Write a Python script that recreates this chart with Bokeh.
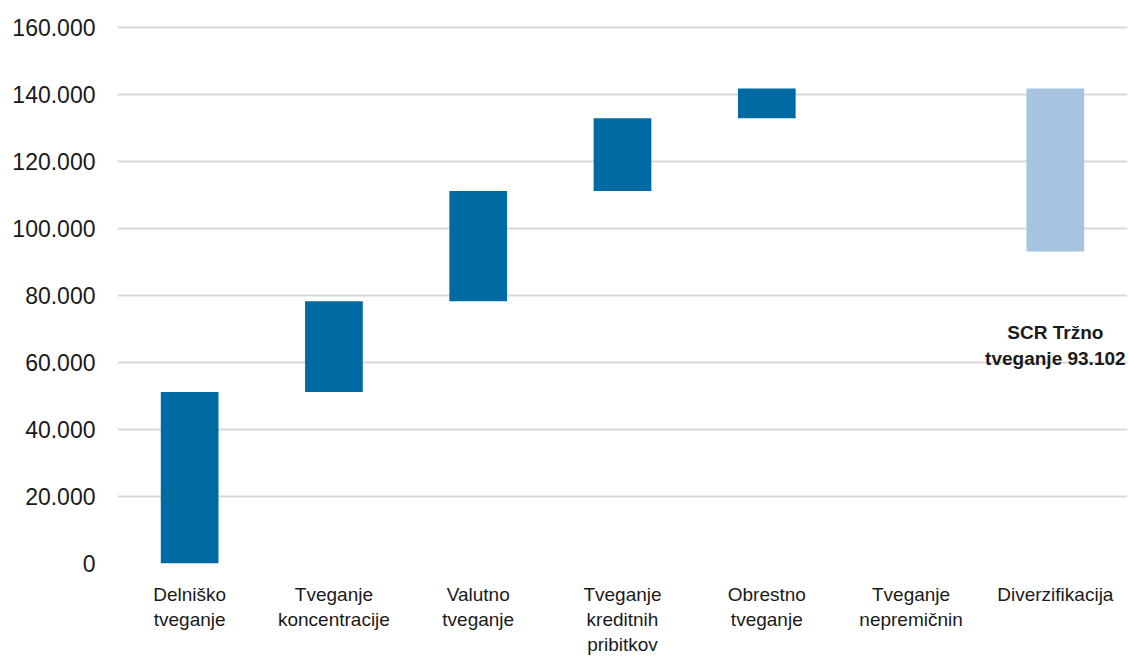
from bokeh.plotting import figure
from bokeh.models import FixedTicker, CustomJSTickFormatter, ColumnDataSource
from bokeh.core.properties import value
from bokeh.embed import file_html
from bokeh.resources import INLINE

categories = ["Delniško\ntveganje", "Tveganje\nkoncentracije", "Valutno\ntveganje",
              "Tveganje\nkreditnih\npribitkov", "Obrestno\ntveganje",
              "Tveganje\nnepremičnin", "Diverzifikacija"]
increments = [51200, 27000, 32900, 21700, 8900, 0, -48598]
total_value = 93102
label_y = 65000
y_ticks = [0, 20000, 40000, 60000, 80000, 100000, 120000, 140000, 160000]

DARK = "#006AA2"
LIGHT = "#A6C4E0"

bottoms, tops, colors = [], [], []
run = 0
for i, inc in enumerate(increments):
    start = run
    run += inc
    bottoms.append(min(start, run))
    tops.append(max(start, run))
    colors.append(LIGHT if inc < 0 else DARK)

src = ColumnDataSource(dict(x=categories, bottom=bottoms, top=tops, color=colors))

p = figure(x_range=categories, y_range=(0, 160800), width=1128, height=658,
           output_backend="svg", toolbar_location=None,
           min_border_left=117, min_border_right=1, min_border_top=24, min_border_bottom=95)
p.outline_line_color = None
p.background_fill_color = "white"
p.border_fill_color = "white"

p.vbar(x="x", bottom="bottom", top="top", width=0.4, color="color", line_color=None, source=src)

p.text(x=[categories[-1]], y=[label_y],
       text=["SCR Tržno\ntveganje " + f"{total_value:,}".replace(",", ".")],
       text_align="center", text_baseline="middle",
       text_font=value("Liberation Sans"), text_font_size="19px",
       text_font_style="bold", text_color="#1a1a1a", text_line_height=1.25)

p.yaxis.ticker = FixedTicker(ticks=y_ticks)
p.yaxis.formatter = CustomJSTickFormatter(code="""
return tick.toFixed(0).replace(/\\B(?=(\\d{3})+(?!\\d))/g, '.');
""")
for ax in (p.xaxis, p.yaxis):
    ax.axis_line_color = None
    ax.major_tick_line_color = None
    ax.minor_tick_line_color = None
    ax.major_label_text_font = "Liberation Sans"
    ax.major_label_text_color = "#1a1a1a"
p.yaxis.major_label_text_font_size = "23px"
p.yaxis.major_label_standoff = 16
p.xaxis.major_label_text_font_size = "19px"
p.xaxis.major_label_standoff = 14

p.xgrid.grid_line_color = None
p.ygrid.ticker = FixedTicker(ticks=y_ticks)
p.ygrid.grid_line_color = "#d9d9d9"
p.ygrid.grid_line_width = 2

open("out.html", "w").write(file_html(p, INLINE))
